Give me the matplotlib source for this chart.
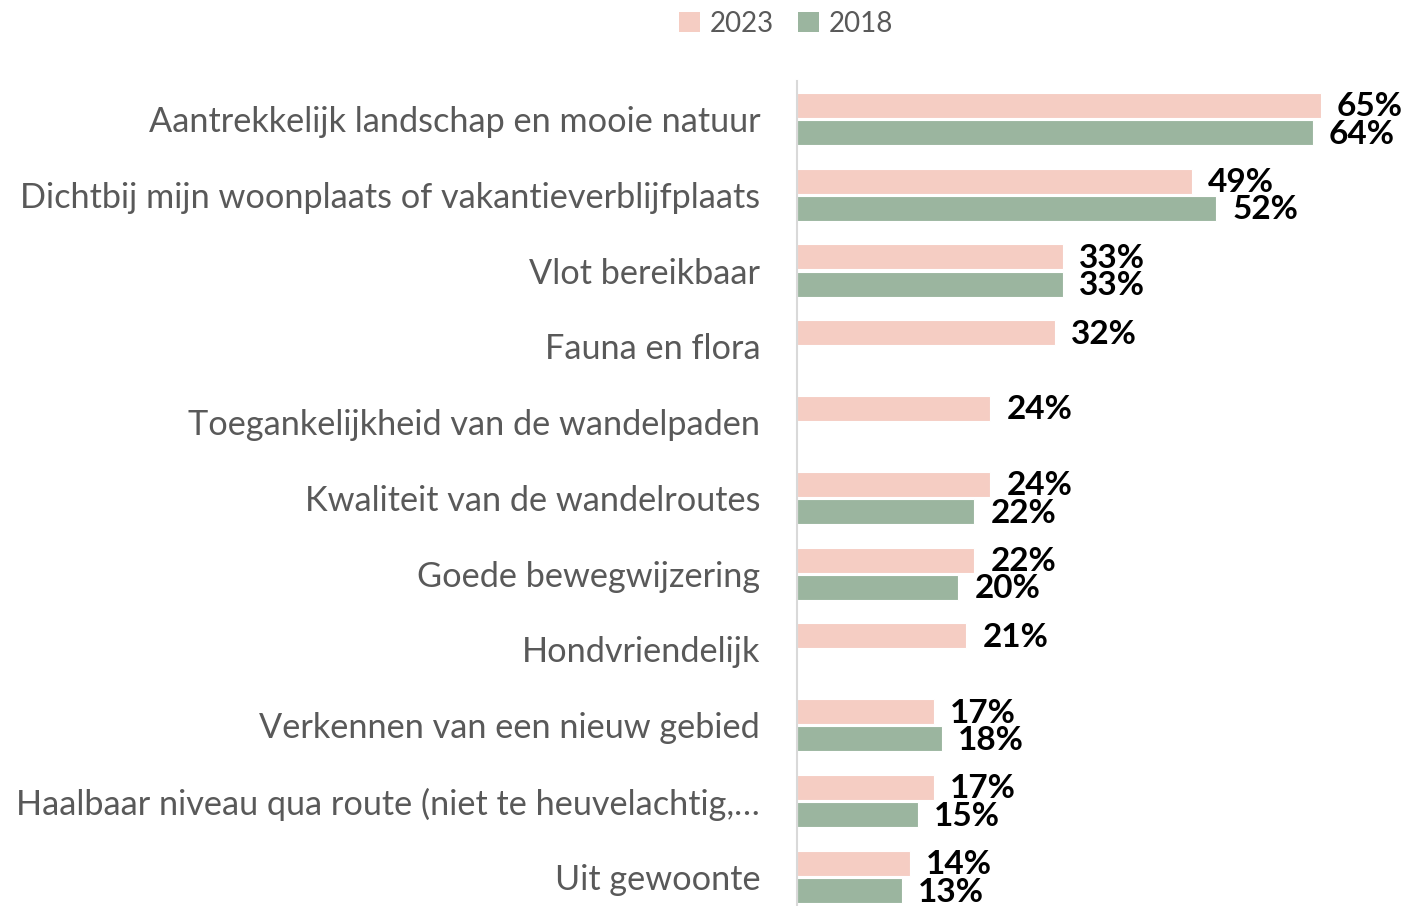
import numpy as np
import matplotlib.pyplot as plt
from matplotlib.patches import Patch

categories = [
    "Aantrekkelijk landschap en mooie natuur",
    "Dichtbij mijn woonplaats of vakantieverblijfplaats",
    "Vlot bereikbaar",
    "Fauna en flora",
    "Toegankelijkheid van de wandelpaden",
    "Kwaliteit van de wandelroutes",
    "Goede bewegwijzering",
    "Hondvriendelijk",
    "Verkennen van een nieuw gebied",
    "Haalbaar niveau qua route (niet te heuvelachtig,\u2026",
    "Uit gewoonte",
]
values_2023 = [65, 49, 33, 32, 24, 24, 22, 21, 17, 17, 14]
values_2018 = [64, 52, 33, None, None, 22, 20, None, 18, 15, 13]

col_2023 = "#F5CDC3"
col_2018 = "#9BB59F"
text_grey = "#595959"

plt.rcParams['font.family'] = ['Lato', 'DejaVu Sans']

fig = plt.figure(figsize=(14.06, 9.06), dpi=100)
ax = fig.add_axes([797 / 1406, 0, 604.5 / 1406, 825 / 906])

y = np.arange(len(categories))
h = 0.33
off = 0.18

for i, v in enumerate(values_2023):
    ax.barh(y[i] - off, v, height=h, color=col_2023, edgecolor="white", linewidth=0.8)
    ax.text(v + 2.0, y[i] - off + 0.02, f"{v}%", va="center", ha="left",
            fontsize=24, fontweight="bold", color="black")
for i, v in enumerate(values_2018):
    if v is None:
        continue
    ax.barh(y[i] + off, v, height=h, color=col_2018, edgecolor="white", linewidth=0.8)
    ax.text(v + 2.0, y[i] + off + 0.02, f"{v}%", va="center", ha="left",
            fontsize=24, fontweight="bold", color="black")

ax.set_xlim(0, 75)
ax.set_ylim(-0.5 + 825 / 75.8, -0.5)
ax.set_yticks(y)
ax.set_yticklabels(categories, fontsize=24.7, color=text_grey)
ax.tick_params(axis="y", length=0, pad=26.5)
ax.set_xticks([])
for s in ["top", "right", "bottom"]:
    ax.spines[s].set_visible(False)
ax.spines["left"].set_color("#D9D9D9")
ax.spines["left"].set_linewidth(1.5)

handles = [Patch(facecolor=col_2023, label="2023"), Patch(facecolor=col_2018, label="2018")]
fig.legend(handles=handles, loc="center", bbox_to_anchor=(786 / 1406, 1 - 24 / 906),
           ncol=2, frameon=False, fontsize=20, labelcolor=text_grey,
           handlelength=0.75, handleheight=0.75, handletextpad=0.35, columnspacing=0.9)

fig.savefig("out.png", dpi=100)
